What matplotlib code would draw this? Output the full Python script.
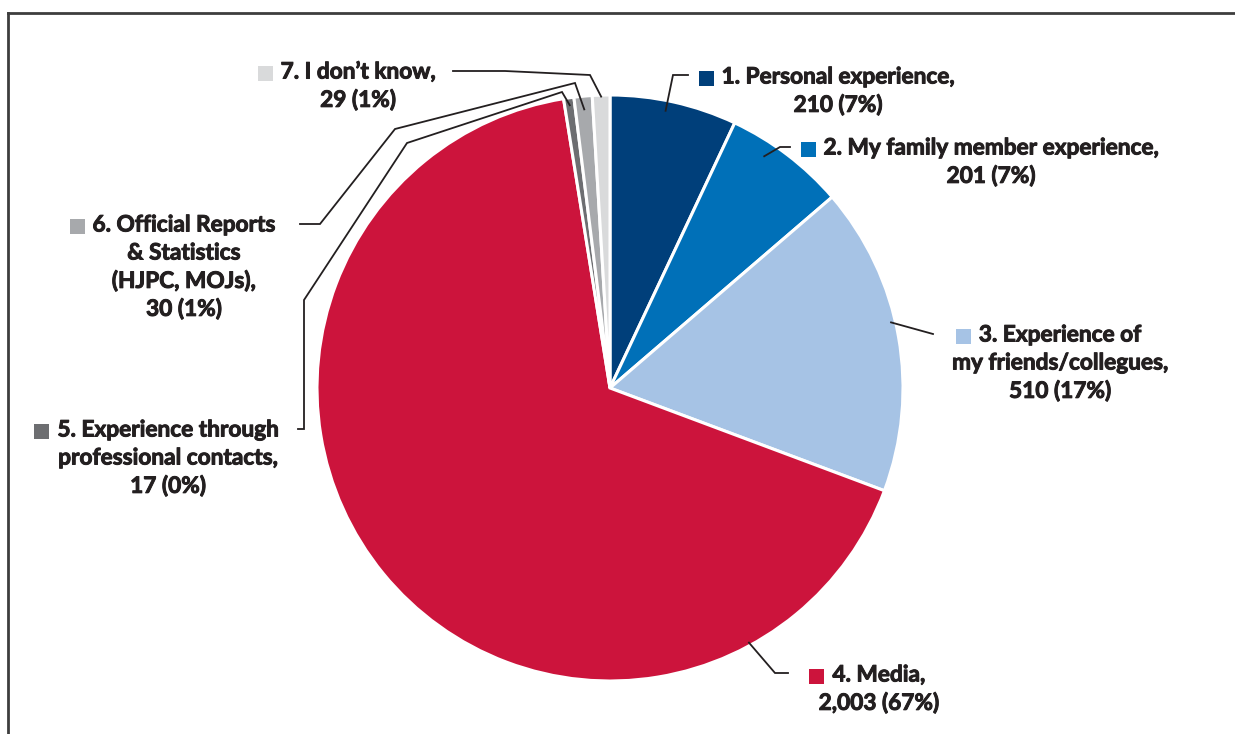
import numpy as np
import matplotlib
matplotlib.use("Agg")
import matplotlib.pyplot as plt
import matplotlib.patheffects as pe
from matplotlib.patches import Rectangle
from matplotlib.lines import Line2D

# ---- data ----
categories = [
    "1. Personal experience,",
    "2. My family member experience,",
    "3. Experience of\nmy friends/collegues,",
    "4. Media,",
    "5. Experience through\nprofessional contacts,",
    "6. Official Reports\n& Statistics\n(HJPC, MOJs),",
    "7. I don\u2019t know,",
]
counts = [210, 201, 510, 2003, 17, 30, 29]
percent_labels = ["7%", "7%", "17%", "67%", "0%", "1%", "1%"]
colors = ["#003f7a", "#0070b8", "#a6c3e5", "#cc143c", "#6d6e71", "#a7a9ac", "#d9dadb"]

# ---- layout (pixels, origin top-left) ----
W, H = 1235, 734
CX, CY, R = 610, 388, 293
TXT = "#231f20"
FONT = "Lato"
FS = 16.3
WEIGHT = "bold"
LINE_H = 28

# label block centre x, first-line y
label_pos = [(838, 77), (991, 148), (1060, 335), (879, 675), (168, 430), (184, 225), (358, 72)]
anchor_frac = [0.45, 0.35, 0.45, 0.17, 0.5, 0.5, 0.5]
anchor_r = [0.965, 0.95, 0.985, 0.99, 0.975, 0.955, 0.995]
elbows = [
    [(673, 75), (688, 75)],
    [(780, 147), (790, 147)],
    [(933, 334)],
    [(775, 673), (788, 673)],
    [(562, 92), (407, 143), (304, 300), (304, 429), (298, 429)],
    [(575, 83), (395, 129), (320, 224), (300, 224)],
    [(590, 75), (505, 71), (453, 71)],
]

fig = plt.figure(figsize=(W / 100, H / 100), dpi=100)
ax = fig.add_axes([0, 0, 1, 1])

def P(x, y):
    return x, H - y

wedges, _ = ax.pie(counts, colors=colors, startangle=90, counterclock=False,
                   center=P(CX, CY), radius=R,
                   wedgeprops=dict(edgecolor="white", linewidth=2.2))
ax.set_xlim(0, W)
ax.set_ylim(0, H)
ax.set_aspect("equal")
ax.axis("off")

# frame
fig.add_artist(Line2D([8 / W, 1.0], [1 - 12.5 / H, 1 - 12.5 / H], transform=fig.transFigure,
                      color="#3d3d3d", lw=2))
fig.add_artist(Line2D([8 / W, 8 / W], [1 - 12.5 / H, 0], transform=fig.transFigure,
                      color="#3d3d3d", lw=2))

heavy = [pe.Stroke(linewidth=0.7, foreground=TXT), pe.Normal()]

texts_first = []
for i, (cat, n, pct) in enumerate(zip(categories, counts, percent_labels)):
    lines = cat.split("\n") + [f"{n:,} ({pct})"]
    x0, y0 = label_pos[i]
    objs = []
    for k, ln in enumerate(lines):
        t = ax.text(*P(x0, y0 + k * LINE_H), ln, ha="center", va="center",
                    fontsize=FS, fontweight=WEIGHT, family=FONT, color=TXT,
                    path_effects=heavy)
        objs.append(t)
    texts_first.append(objs[0])

    # leader line from a point inside the wedge
    w = wedges[i]
    th1, th2 = w.theta1, w.theta2
    a = np.deg2rad(th2 - (th2 - th1) * anchor_frac[i])
    ax_, ay_ = CX + R * anchor_r[i] * np.cos(a), H - (CY - R * anchor_r[i] * np.sin(a))
    pts = [(ax_, ay_)] + [P(*p) for p in elbows[i]]
    xs, ys = zip(*pts)
    ax.plot(xs, ys, color=TXT, lw=1.3, solid_joinstyle="miter")

# colour squares left of first lines
fig.canvas.draw()
renderer = fig.canvas.get_renderer()
SQ = 15
for i, t in enumerate(texts_first):
    bb = t.get_window_extent(renderer)
    x1 = bb.x0 - 8
    yc = (bb.y0 + bb.y1) / 2 - 1
    ax.add_patch(Rectangle((x1 - SQ, yc - SQ / 2), SQ, SQ, facecolor=colors[i],
                           edgecolor="none", transform=None))

fig.savefig("out.png", dpi=100)
